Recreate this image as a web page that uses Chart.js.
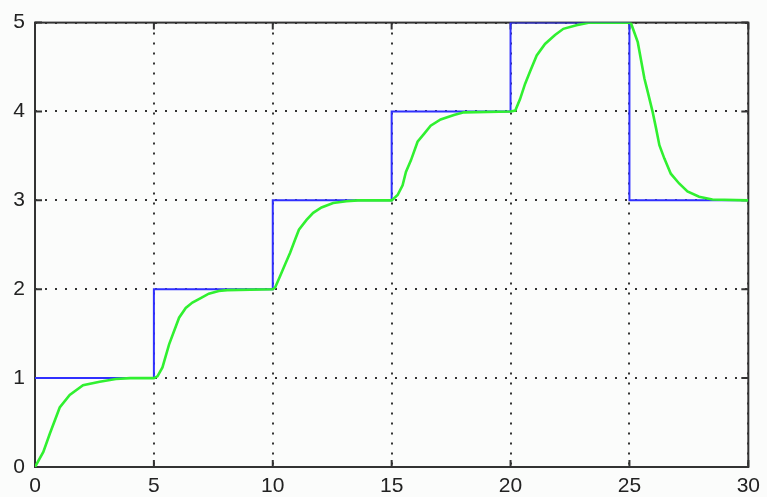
<!DOCTYPE html>
<html>
<head>
<meta charset="utf-8">
<script src="https://cdn.jsdelivr.net/npm/chart.js@4.4.1/dist/chart.umd.min.js"></script>
<style>
  html, body { margin: 0; padding: 0; background: #fbfcfb; }
  #wrap { width: 767px; height: 497px; }
</style>
</head>
<body>
<div id="wrap"><canvas id="chart-1"></canvas></div>
<script>
// setpoint (blue step)
const stepX = [0, 5, 5, 10, 10, 15, 15, 20, 20, 25, 25, 30];
const stepY = [1, 1, 2, 2, 3, 3, 4, 4, 5, 5, 3, 3];

// response (green)
const respX = [0, 0.35, 0.63, 1.04, 1.46, 2.02, 2.72, 3.4, 4.0, 5.0,
  5.15, 5.36, 5.5, 5.64, 5.85, 6.06, 6.34, 6.62, 6.97, 7.31, 7.73, 8.08, 10.0,
  10.1, 10.31, 10.52, 10.73, 10.94, 11.1, 11.42, 11.7, 12.05, 12.54, 13.1, 13.58, 15.0,
  15.25, 15.46, 15.6, 15.81, 16.09, 16.37, 16.64, 17.06, 17.62, 18.04, 20.0,
  20.2, 20.4, 20.61, 20.82, 21.1, 21.45, 21.87, 22.22, 22.77, 23.33, 25.0,
  25.07, 25.35, 25.63, 25.77, 25.98, 26.12, 26.26, 26.47, 26.74, 27.09, 27.44, 27.93, 28.49, 30.0];
const respY = [0, 0.17, 0.38, 0.67, 0.81, 0.92, 0.96, 0.99, 1.0, 1.0,
  1.02, 1.12, 1.25, 1.38, 1.53, 1.68, 1.79, 1.85, 1.9, 1.95, 1.98, 1.99, 2.0,
  2.02, 2.15, 2.28, 2.41, 2.56, 2.67, 2.78, 2.86, 2.92, 2.97, 2.99, 3.0, 3.0,
  3.06, 3.17, 3.32, 3.45, 3.66, 3.75, 3.84, 3.91, 3.96, 3.99, 4.0,
  4.01, 4.14, 4.31, 4.45, 4.63, 4.76, 4.86, 4.93, 4.97, 5.0, 5.0,
  4.99, 4.78, 4.37, 4.22, 3.99, 3.81, 3.62, 3.47, 3.3, 3.19, 3.1, 3.04, 3.01, 3.0];

const xTicks = [0, 5, 10, 15, 20, 25, 30];
const yTicks = [0, 1, 2, 3, 4, 5];

const toPts = (xs, ys) => xs.map((x, i) => ({ x: x, y: ys[i] }));

// box around the plot + short inward ticks, like the old matlab look
const frame = {
  id: 'frame',
  beforeDatasetsDraw(chart) {
    const { ctx, chartArea: a, scales } = chart;
    ctx.save();
    ctx.strokeStyle = '#333';
    ctx.lineWidth = 2;
    ctx.beginPath();
    xTicks.forEach(v => {
      const px = scales.x.getPixelForValue(v);
      ctx.moveTo(px, a.bottom); ctx.lineTo(px, a.bottom - 7);
      ctx.moveTo(px, a.top); ctx.lineTo(px, a.top + 7);
    });
    yTicks.forEach(v => {
      const py = scales.y.getPixelForValue(v);
      ctx.moveTo(a.left, py); ctx.lineTo(a.left + 7, py);
      ctx.moveTo(a.right, py); ctx.lineTo(a.right - 7, py);
    });
    ctx.stroke();
    ctx.strokeRect(a.left, a.top, a.right - a.left, a.bottom - a.top);
    ctx.restore();
  }
};

const tickFont = { family: 'Liberation Sans, Arial, sans-serif', size: 21 };

const config = {
  type: 'scatter',
  data: {
    datasets: [
      {
        // first dataset ends up drawn on top
        label: 'response',
        data: toPts(respX, respY),
        showLine: true,
        borderColor: '#30f030',
        borderWidth: 2.6,
        pointRadius: 0,
        tension: 0
      },
      {
        label: 'setpoint',
        data: toPts(stepX, stepY),
        showLine: true,
        borderColor: '#3030ff',
        borderWidth: 2,
        pointRadius: 0,
        tension: 0
      }
    ]
  },
  options: {
    responsive: true,
    maintainAspectRatio: false,
    animation: false,
    layout: { padding: { top: 20, right: 13, left: 0, bottom: 0 } },
    plugins: {
      legend: { display: false },
      tooltip: { enabled: false }
    },
    scales: {
      x: {
        type: 'linear',
        min: 0, max: 30,
        afterBuildTicks: s => { s.ticks = xTicks.map(v => ({ value: v })); },
        afterFit: s => { s.height = 30; },
        border: { display: false, dash: [2, 8] },
        grid: { color: '#333', lineWidth: 2, drawTicks: false },
        ticks: { color: '#222', padding: 7, font: tickFont }
      },
      y: {
        type: 'linear',
        min: 0, max: 5,
        afterBuildTicks: s => { s.ticks = yTicks.map(v => ({ value: v })); },
        afterFit: s => { s.width = 35; },
        border: { display: false, dash: [2, 8] },
        grid: { color: '#333', lineWidth: 2, drawTicks: false },
        ticks: { color: '#222', padding: 10, font: tickFont }
      }
    }
  },
  plugins: [frame]
};

new Chart(document.getElementById('chart-1').getContext('2d'), config);
</script>
</body>
</html>
